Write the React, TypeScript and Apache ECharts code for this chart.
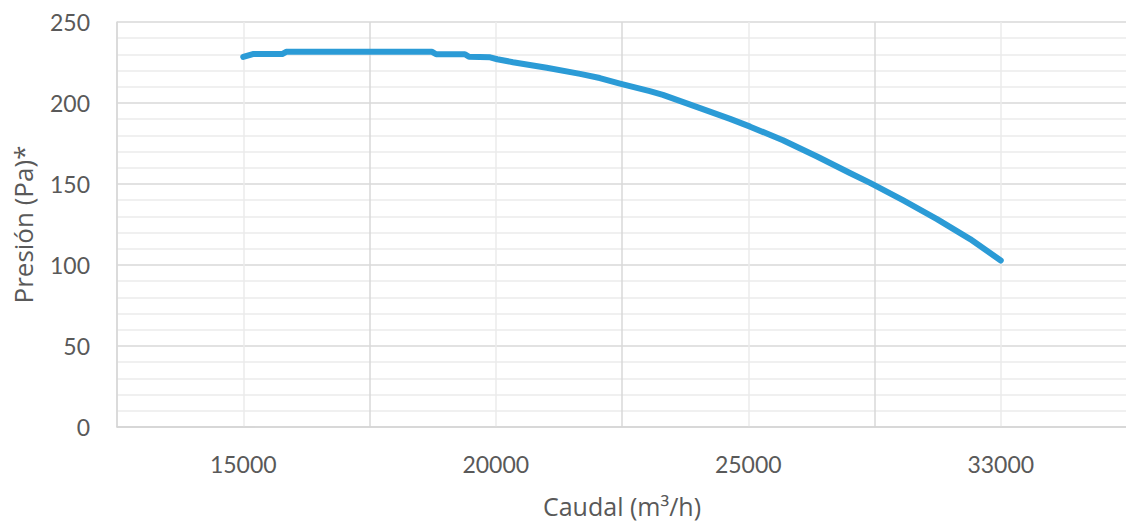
import React, { useEffect, useRef } from "react";
import * as echarts from "echarts";

// Category labels of the flow axis (each centred in its band)
const flowCategories = ["15000", "20000", "25000", "33000"];
const categoryFlows = [15000, 20000, 25000, 33000];

// Fan curve: flow (m³/h) and pressure (Pa)
const curveFlow = [
  15000, 15190, 15770, 15850, 18740, 18820, 19390, 19470, 19890, 20030,
  20340, 21010, 21670, 22060, 22460, 23050, 23310, 23990, 24640, 25060,
  26100, 27180, 28220, 28860, 29900, 30980, 32030, 33000,
];
const curvePressure = [
  228.4, 230.2, 230.2, 231.6, 231.6, 230.1, 230.1, 228.5, 228.2, 227.0,
  225.2, 221.8, 218.0, 215.4, 212.0, 207.3, 205.0, 197.5, 190.2, 185.4,
  177.0, 167.0, 156.8, 150.7, 140.0, 128.3, 116.0, 102.8,
];

const yMin = 0;
const yMax = 250;
const yStep = 50;

const TEXT = "#595959";
const FONT = "Lato, 'Open Sans', sans-serif";
const NAME_FONT = "'Open Sans', Lato, sans-serif";
const LINE = "#2b9bd6";

// Piecewise mapping of a flow value onto the category bands (band centre = index + 0.5)
function flowToBand(flow: number): number {
  for (let i = 0; i < categoryFlows.length - 1; i++) {
    const a = categoryFlows[i];
    const b = categoryFlows[i + 1];
    if (flow <= b || i === categoryFlows.length - 2) {
      return i + 0.5 + (flow - a) / (b - a);
    }
  }
  return 0.5;
}

export default function App() {
  const ref = useRef<HTMLDivElement>(null);

  useEffect(() => {
    if (!ref.current) return;
    const chart = echarts.init(ref.current, null, { renderer: "svg" });
    const data = curveFlow.map((f, i) => [flowToBand(f), curvePressure[i]]);

    chart.setOption({
      animation: false,
      backgroundColor: "#ffffff",
      grid: {
        left: 117,
        top: 22,
        right: -1,
        bottom: 97,
        containLabel: false,
        outerBoundsMode: "none",
      },
      xAxis: [
        {
          type: "category",
          data: flowCategories,
          boundaryGap: true,
          position: "bottom",
          name: "Caudal (m³/h)",
          nameLocation: "middle",
          nameGap: 66,
          nameTextStyle: { color: TEXT, fontSize: 25, fontFamily: NAME_FONT },
          axisLine: { show: true, lineStyle: { color: "#d4d4d4", width: 1.5 } },
          axisTick: { show: false },
          axisLabel: {
            color: TEXT,
            fontSize: 23,
            fontFamily: FONT,
            margin: 25,
          },
          splitLine: { show: false },
        },
        {
          type: "value",
          min: 0,
          max: 4,
          interval: 1,
          position: "bottom",
          axisLine: { show: false },
          axisTick: { show: false },
          axisLabel: { show: false },
          splitLine: { show: true, lineStyle: { color: "#d9d9d9", width: 1.5 } },
          minorTick: { show: false, splitNumber: 2 },
          minorSplitLine: { show: true, lineStyle: { color: "#ebebeb", width: 1.5 } },
        },
      ],
      yAxis: {
        type: "value",
        min: yMin,
        max: yMax,
        interval: yStep,
        name: "Presión (Pa)*",
        nameLocation: "middle",
        nameGap: 81,
        nameRotate: 90,
        nameTextStyle: { color: TEXT, fontSize: 26, fontFamily: NAME_FONT },
        axisLine: { show: true, lineStyle: { color: "#d9d9d9", width: 1.5 } },
        axisTick: { show: false },
        axisLabel: { color: TEXT, fontSize: 23, fontFamily: FONT, margin: 27 },
        splitLine: { show: true, lineStyle: { color: "#d9d9d9", width: 1.5 } },
        minorTick: { show: false, splitNumber: 5 },
        minorSplitLine: { show: true, lineStyle: { color: "#ebebeb", width: 1.5 } },
      },
      series: [
        {
          type: "line",
          xAxisIndex: 1,
          data,
          showSymbol: false,
          symbol: "none",
          smooth: false,
          lineStyle: { color: LINE, width: 6, cap: "round", join: "round" },
          z: 5,
        },
      ],
    });

    return () => chart.dispose();
  }, []);

  return (
    <div
      ref={ref}
      style={{ position: "absolute", left: 0, top: 0, width: 1126, height: 524 }}
    />
  );
}
